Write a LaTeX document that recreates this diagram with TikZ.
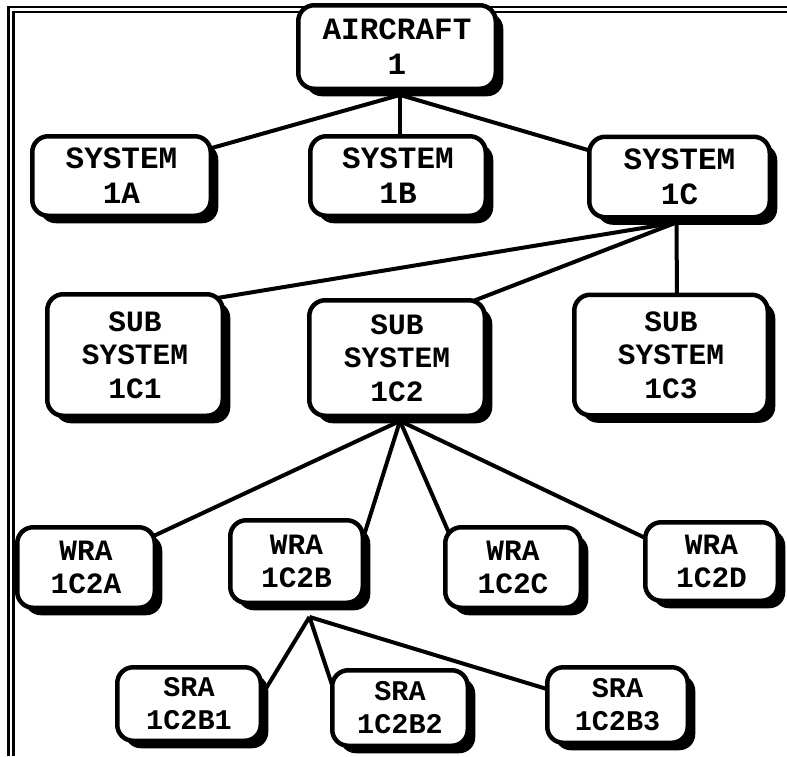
\documentclass[tikz,border=0pt]{standalone}
\usepackage{fontspec}
\newfontfamily\boxfont{Liberation Mono}
\usetikzlibrary{calc,shadows}
\tikzset{
  unitbox/.style={draw, line width=4.5pt, rounded corners=16pt, fill=white,
    inner sep=0pt, align=center,
    general shadow={shadow xshift=7.5pt, shadow yshift=-7.5pt, fill=black}},
  bigtext/.style={font=\boxfont\bfseries\fontsize{31}{35}\selectfont},
  midtext/.style={font=\boxfont\bfseries\fontsize{29.5}{33.5}\selectfont},
  smalltext/.style={font=\boxfont\bfseries\fontsize{28.5}{33}\selectfont},
  link/.style={line width=4pt},
  frameline/.style={line width=2.5pt}
}
\begin{document}
\begin{tikzpicture}[x=1pt,y=-1pt]
\useasboundingbox (0,0) rectangle (787,756);
% double frame along the top and left edges
\draw[frameline] (8.5,756) -- (8.5,7) -- (787,7);
\draw[frameline] (13.5,756) -- (13.5,12) -- (787,12);

% boxes are placed first (invisible) so the links can refer to them
\begin{scope}[every node/.style={inner sep=0pt}]
\path
  (397,47)      node[minimum width=197.5pt, minimum height=83.5pt] (air) {}
  (121.5,176)   node[minimum width=178.5pt, minimum height=79.5pt] (s1a) {}
  (398,176)     node[minimum width=175.5pt, minimum height=79.5pt] (s1b) {}
  (679.5,177)   node[minimum width=180.5pt, minimum height=80.5pt] (s1c) {}
  (135,355)     node[minimum width=175.5pt, minimum height=121.5pt] (c1) {}
  (397,358)     node[minimum width=175.5pt, minimum height=115.5pt] (c2) {}
  (671,355)     node[minimum width=193.5pt, minimum height=120.5pt] (c3) {}
  (86,567.5)    node[minimum width=137.5pt, minimum height=80.5pt] (wa) {}
  (296.5,561.5) node[minimum width=132.5pt, minimum height=82.5pt] (wb) {}
  (513,567.5)   node[minimum width=135.5pt, minimum height=80.5pt] (wc) {}
  (711.5,561.5) node[minimum width=132.5pt, minimum height=78.5pt] (wd) {}
  (189,704)     node[minimum width=143.5pt, minimum height=73.5pt] (r1) {}
  (400,708)     node[minimum width=135.5pt, minimum height=75.5pt] (r2) {}
  (617.5,705)   node[minimum width=140.5pt, minimum height=75.5pt] (r3) {};
\end{scope}

% hubs where the links leave each parent box
\coordinate (hA)  at ($(air.south)+(3,6)$);
\coordinate (hC)  at ($(s1c.south)+(-3,5)$);
\coordinate (hC2) at ($(c2.south)+(3,5)$);
\coordinate (hB)  at ($(wb.south)+(13,14)$);

% links
\draw[link] (hA) -- ($(s1a.center)+(72.5,-23)$);
\draw[link] (hA) -- ($(s1b.center)+(2,-26)$);
\draw[link] (hA) -- ($(s1c.center)+(-74.5,-22)$);
\draw[link] (hC) -- ($(c1.center)+(70,-55)$);
\draw[link] (hC) -- ($(c2.center)+(58,-50)$);
\draw[link] (hC) -- ($(c3.center)+(6,-55)$);
\draw[link] (hC2) -- ($(wa.center)+(44,-20.5)$);
\draw[link] (hC2) -- ($(wb.center)+(63.5,-13.5)$);
\draw[link] (hC2) -- ($(wc.center)+(-61,-27.5)$);
\draw[link] (hC2) -- ($(wd.center)+(-51.5,-16.5)$);
\draw[link] (hB) -- ($(r1.center)+(73,-9)$);
\draw[link] (hB) -- ($(r2.center)+(-63,-8)$);
\draw[link] (hB) -- ($(r3.center)+(-57.5,-12)$);

% visible boxes with their labels
\node[unitbox, bigtext, minimum width=197.5pt, minimum height=83.5pt] at (air) {AIRCRAFT\\1};
\node[unitbox, bigtext, minimum width=178.5pt, minimum height=79.5pt] at (s1a) {SYSTEM\\1A};
\node[unitbox, bigtext, minimum width=175.5pt, minimum height=79.5pt] at (s1b) {SYSTEM\\1B};
\node[unitbox, bigtext, minimum width=180.5pt, minimum height=80.5pt] at (s1c) {SYSTEM\\1C};
\node[unitbox, midtext, minimum width=175.5pt, minimum height=121.5pt] at (c1) {SUB\\SYSTEM\\1C1};
\node[unitbox, midtext, minimum width=175.5pt, minimum height=115.5pt] at (c2) {SUB\\SYSTEM\\1C2};
\node[unitbox, midtext, minimum width=193.5pt, minimum height=120.5pt] at (c3) {SUB\\SYSTEM\\1C3};
\node[unitbox, midtext, minimum width=137.5pt, minimum height=80.5pt] at (wa) {WRA\\1C2A};
\node[unitbox, midtext, minimum width=132.5pt, minimum height=82.5pt] at (wb) {WRA\\1C2B};
\node[unitbox, midtext, minimum width=135.5pt, minimum height=80.5pt] at (wc) {WRA\\1C2C};
\node[unitbox, midtext, minimum width=132.5pt, minimum height=78.5pt] at (wd) {WRA\\1C2D};
\node[unitbox, smalltext, minimum width=143.5pt, minimum height=73.5pt] at (r1) {SRA\\1C2B1};
\node[unitbox, smalltext, minimum width=135.5pt, minimum height=75.5pt] at (r2) {SRA\\1C2B2};
\node[unitbox, smalltext, minimum width=140.5pt, minimum height=75.5pt] at (r3) {SRA\\1C2B3};
\end{tikzpicture}
\end{document}
